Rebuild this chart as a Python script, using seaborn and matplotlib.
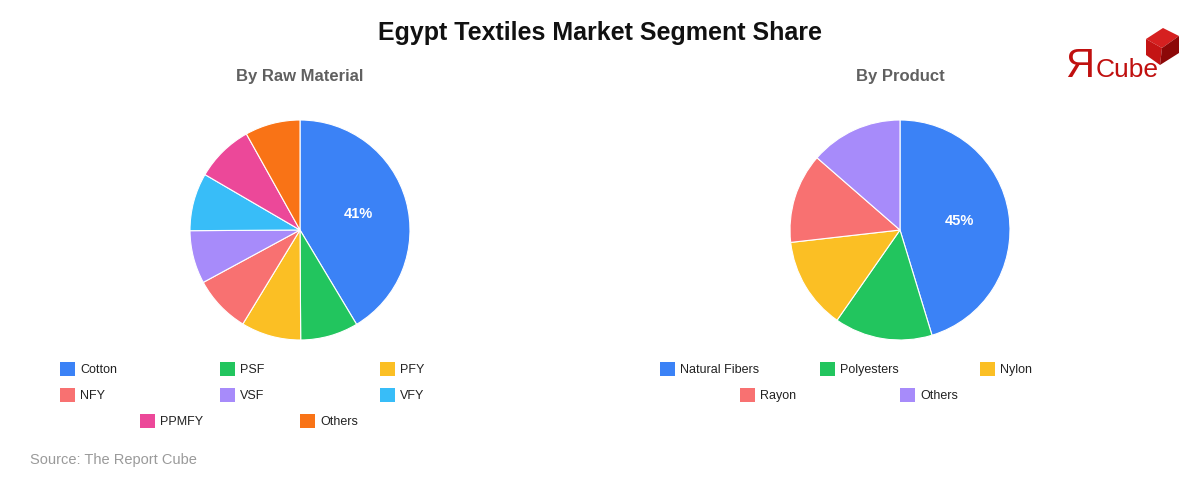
import matplotlib
matplotlib.use("Agg")
import matplotlib.pyplot as plt
from matplotlib.patches import Rectangle, Polygon
import seaborn as sns

# ---- data ----
raw_labels = ["Cotton", "PSF", "PFY", "NFY", "VSF", "VFY", "PPMFY", "Others"]
raw_values = [41.4, 8.5, 8.8, 8.4, 7.8, 8.5, 8.5, 8.1]
raw_colors = ["#3B82F6", "#22C55E", "#FBBF24", "#F87171", "#A78BFA", "#38BDF8", "#EC4899", "#F97316"]

prod_labels = ["Natural Fibers", "Polyesters", "Nylon", "Rayon", "Others"]
prod_values = [45.3, 14.4, 13.5, 13.2, 13.6]
prod_colors = ["#3B82F6", "#22C55E", "#FBBF24", "#F87171", "#A78BFA"]

title = "Egypt Textiles Market Segment Share"
sub_left = "By Raw Material"
sub_right = "By Product"
source = "Source: The Report Cube"

sns.set_theme(style="white")
plt.rcParams["font.family"] = ["Liberation Sans", "DejaVu Sans"]

W, H = 1200, 480
fig = plt.figure(figsize=(12, 4.8), dpi=100)
fig.patch.set_facecolor("white")


def fx(x):
    return x / W


def fy(y):
    return 1 - y / H


def pct_fmt(p):
    return f"{p:.0f}%" if p > 30 else ""


def draw_pie(cx, cy, r, values, colors):
    ax = fig.add_axes([fx(cx - r), fy(cy + r), 2 * r / W, 2 * r / H])
    wedges, texts, autotexts = ax.pie(
        values, colors=sns.color_palette(colors), startangle=90, counterclock=False,
        autopct=pct_fmt, pctdistance=0.55,
        wedgeprops=dict(edgecolor="white", linewidth=0.8),
        textprops=dict(color="white", fontsize=10.5, fontweight="bold"),
    )
    ax.set_xlim(-1, 1)
    ax.set_ylim(-1, 1)
    ax.set_aspect("equal")
    ax.axis("off")
    return wedges


def draw_legend(labels, colors, rows):
    # rows: list of (y, [x positions]) for swatches
    i = 0
    for y, xs in rows:
        for x in xs:
            if i >= len(labels):
                break
            fig.patches.append(Rectangle((fx(x), fy(y + 7)), 15 / W, 14 / H,
                                         transform=fig.transFigure, facecolor=colors[i],
                                         edgecolor="none"))
            fig.text(fx(x + 20), fy(y + 1), labels[i], fontsize=9, color="#222222",
                     va="center", ha="left")
            i += 1


draw_pie(300, 230, 110, raw_values, raw_colors)
draw_pie(900, 230, 110, prod_values, prod_colors)

draw_legend(raw_labels, raw_colors,
            [(369, [60, 220, 380]), (395, [60, 220, 380]), (421, [140, 300])])
draw_legend(prod_labels, prod_colors,
            [(369, [660, 820, 980]), (395, [740, 900])])

fig.text(0.5, fy(33), title, ha="center", va="center", fontsize=18,
         fontweight="bold", color="#111111")
fig.text(fx(300), fy(77), sub_left, ha="center", va="center", fontsize=12,
         fontweight="bold", color="#606060")
fig.text(fx(900), fy(77), sub_right, ha="center", va="center", fontsize=12,
         fontweight="bold", color="#606060")
fig.text(fx(30), fy(460), source, ha="left", va="center", fontsize=10.5, color="#9a9a9a")

# ---- logo ----
cube_top = [(1146, 39), (1163, 28), (1179, 36), (1162, 48)]
cube_left = [(1146, 39), (1162, 48), (1160, 65), (1146, 55)]
cube_right = [(1162, 48), (1179, 36), (1179, 53), (1160, 65)]
for pts, col in [(cube_top, "#d62020"), (cube_left, "#c41414"), (cube_right, "#8c0808")]:
    fig.patches.append(Polygon([(fx(x), fy(y)) for x, y in pts], closed=True,
                               transform=fig.transFigure, facecolor=col, edgecolor="none"))
fig.text(fx(1065), fy(76.7), "Я", ha="left", va="baseline", fontsize=29, color="#c0100f")
fig.text(fx(1096), fy(76.7), "Cube", ha="left", va="baseline", fontsize=19, color="#c0100f")

fig.savefig("out.png", dpi=100, facecolor="white")
